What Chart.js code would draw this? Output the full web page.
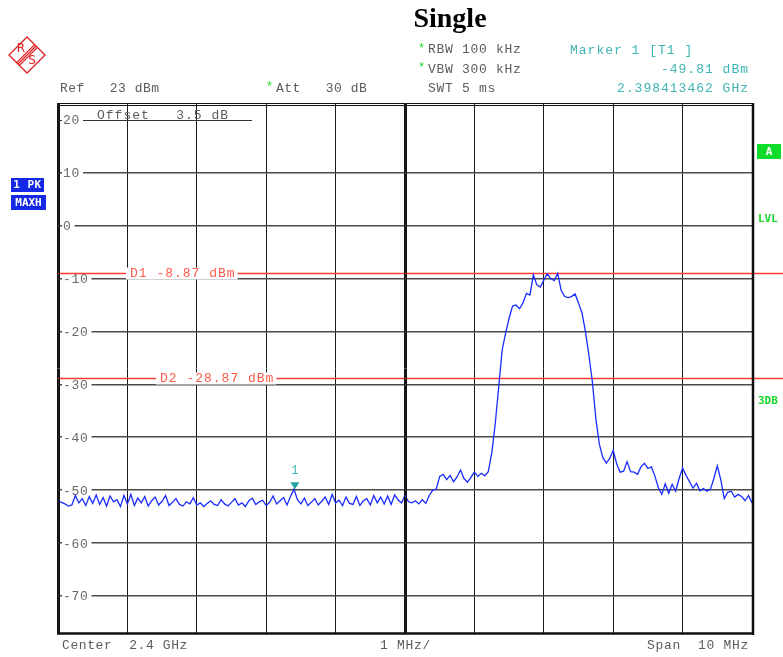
<!DOCTYPE html>
<html>
<head>
<meta charset="utf-8">
<script src="https://cdn.jsdelivr.net/npm/chart.js@4/dist/chart.umd.min.js"></script>
<style>
  body { margin: 0; background: #fff; }
  canvas { display: block; }
</style>
</head>
<body>
<canvas id="spec" width="783" height="657"></canvas>
<script>
// frequency offset from centre (MHz), one trace point every 50 kHz
const freqStart = -5;
const freqStep = 0.05;
// trace 1 (PK / MAXH), dBm
const levels = [
  -52.0, -52.3, -52.6, -53.0, -52.8, -51.0, -52.4, -51.6, -52.9, -51.2,
  -52.5, -50.9, -52.7, -51.4, -53.0, -51.1, -52.2, -51.8, -53.1, -51.0,
  -52.6, -50.8, -52.9, -51.5, -52.4, -51.2, -53.0, -52.0, -51.3, -52.8,
  -52.1, -51.0, -52.9, -52.3, -51.6, -52.7, -53.0, -52.2, -52.6, -51.4,
  -52.8, -52.4, -53.1, -52.5, -52.0, -52.7, -52.9, -51.8, -52.6, -53.0,
  -52.3, -51.6, -52.8, -52.4, -53.1, -52.0, -51.5, -52.7, -52.2, -51.9,
  -52.9, -52.3, -51.1, -52.6, -52.0, -51.4, -52.8, -51.2, -49.8, -51.8,
  -52.6, -51.5, -52.9, -52.3, -51.6, -52.8, -52.1, -51.3, -52.7, -50.8,
  -52.4, -51.9, -52.9, -51.3, -52.5, -52.7, -51.2, -52.9, -52.0, -51.6,
  -52.8, -51.0, -52.4, -51.3, -52.6, -51.1, -52.7, -50.9, -51.8, -52.4,
  -51.0, -52.2, -52.4, -52.0, -52.6, -51.8, -52.5, -51.0, -50.0, -49.8,
  -47.4, -47.0, -48.0, -47.2, -48.4, -47.5, -46.2, -47.8, -48.5, -47.6,
  -46.6, -47.4, -46.8, -47.3, -46.5, -43.0, -37.5, -30.5, -23.5, -20.3,
  -17.5, -15.2, -15.0, -15.7, -14.6, -12.8, -13.1, -9.3, -11.2, -11.6,
  -10.3, -9.1, -10.0, -10.4, -9.0, -12.2, -13.4, -13.6, -13.4, -12.9,
  -14.6, -16.5, -20.0, -24.5, -29.5, -36.5, -41.3, -43.8, -44.9, -44.0,
  -42.5, -45.0, -46.6, -46.4, -44.6, -46.5, -46.6, -47.0, -45.6, -44.9,
  -45.9, -45.6, -47.3, -49.5, -50.8, -48.8, -50.6, -48.9, -50.2, -47.8,
  -45.8, -47.2, -48.4, -49.6, -48.7, -50.1, -49.7, -50.2, -49.9, -47.8,
  -45.4, -48.0, -51.6, -50.4, -50.2, -51.3, -50.8, -51.2, -52.0, -51.0,
  -52.4
];
const yTicks = [20, 10, 0, -10, -20, -30, -40, -50, -60, -70];
const xTicks = [-5, -4, -3, -2, -1, 0, 1, 2, 3, 4, 5];
const dLevels = [-8.87, -28.87];
const dNames = ['D1 -8.87 dBm', 'D2 -28.87 dBm'];
const markerFreq = -1.586538;
const markerLevel = -49.81;

const MONO = '13px "Liberation Mono", "DejaVu Sans Mono", monospace';
const GREY = '#5c5c5c';
const TEAL = '#3fb4b4';
const GREEN = '#19d42a';

function txt(ctx, s, x, y, color, align, font, spacing) {
    ctx.save();
    ctx.font = font || MONO;
    ctx.letterSpacing = spacing === undefined ? '0.7px' : spacing;
    ctx.fillStyle = color;
    ctx.textAlign = align || 'left';
    ctx.textBaseline = 'middle';
    ctx.fillText(s, x, y);
    ctx.restore();
}

function hline(ctx, x1, x2, y, color, w) {
    ctx.strokeStyle = color;
    ctx.lineWidth = w;
    ctx.beginPath();
    ctx.moveTo(x1, y);
    ctx.lineTo(x2, y);
    ctx.stroke();
}

function vline(ctx, x, y1, y2, color, w) {
    ctx.strokeStyle = color;
    ctx.lineWidth = w;
    ctx.beginPath();
    ctx.moveTo(x, y1);
    ctx.lineTo(x, y2);
    ctx.stroke();
}

const analyzer = {
    id: 'analyzer',
    beforeDatasetsDraw(chart) {
        const ctx = chart.ctx;
        const a = chart.chartArea;
        const ys = chart.scales.y;
        ctx.save();
        // offset field underline (sits where the 20 dB line would be)
        const y20 = Math.round(ys.getPixelForValue(20)) + 0.5;
        hline(ctx, a.left, 252, y20, '#333', 1.2);
        txt(ctx, 'Offset   3.5 dB', 97, y20 - 5, GREY, 'left', MONO, '1px');
        // level labels inside the grid
        yTicks.forEach(v => {
            const y = ys.getPixelForValue(v);
            ctx.font = MONO;
            ctx.letterSpacing = '0.7px';
            const w = ctx.measureText(String(v)).width;
            ctx.fillStyle = '#fff';
            ctx.fillRect(a.left + 4, y - 6, w + 4, 12);
            txt(ctx, String(v), a.left + 5, y + 1, '#6a6a6a');
        });
        // display lines
        dLevels.forEach((v, i) => {
            const y = Math.round(ys.getPixelForValue(v)) + 0.5;
            hline(ctx, a.left, chart.width, y, '#ff3b30', 1.3);
            const x0 = i === 0 ? 130 : 160;
            ctx.font = MONO;
            ctx.letterSpacing = '1px';
            const w = ctx.measureText(dNames[i]).width;
            ctx.fillStyle = '#fff';
            ctx.fillRect(x0 - 4, y - 6, w + 6, 12);
            txt(ctx, dNames[i], x0, y, '#ff5a4a', 'left', MONO, '1px');
        });
        ctx.restore();
    },
    afterDatasetsDraw(chart) {
        const ctx = chart.ctx;
        const a = chart.chartArea;
        const xs = chart.scales.x;
        const ys = chart.scales.y;
        ctx.save();

        // frame
        const xc = Math.round(xs.getPixelForValue(0));
        vline(ctx, xc - 0.5, a.top, a.bottom, '#111', 1);
        vline(ctx, xc + 1.5, a.top, a.bottom, '#111', 1);
        vline(ctx, a.left - 0.5, a.top - 1, a.bottom + 1, '#111', 1);
        vline(ctx, a.left + 1.5, a.top - 1, a.bottom + 1, '#111', 1);
        vline(ctx, a.right + 1, a.top - 1, a.bottom + 2, '#111', 2.5);
        hline(ctx, a.left - 1, a.right + 2, a.top - 0.5, '#111', 1);
        hline(ctx, a.left - 1, a.right + 2, a.top + 1.5, '#111', 1);
        hline(ctx, a.left - 1, a.right + 2, a.bottom + 0.5, '#111', 2.5);

        // marker 1
        const mx = xs.getPixelForValue(markerFreq);
        const my = ys.getPixelForValue(markerLevel);
        ctx.fillStyle = '#23a3a3';
        ctx.beginPath();
        ctx.moveTo(mx - 4.5, my - 7);
        ctx.lineTo(mx + 4.5, my - 7);
        ctx.lineTo(mx, my);
        ctx.closePath();
        ctx.fill();
        txt(ctx, '1', mx, my - 18, TEAL, 'center', '12px "Liberation Mono", monospace', '0px');

        // header
        txt(ctx, 'Single', 450, 20, '#000', 'center', 'bold 28px "Liberation Serif", serif', '0px');
        txt(ctx, '*', 418, 49, GREEN, 'left', '12px "Liberation Mono", monospace', '0px');
        txt(ctx, 'RBW 100 kHz', 428, 50, GREY);
        txt(ctx, '*', 418, 68, GREEN, 'left', '12px "Liberation Mono", monospace', '0px');
        txt(ctx, 'VBW 300 kHz', 428, 70, GREY);
        txt(ctx, 'SWT 5 ms', 428, 89, GREY);
        txt(ctx, 'Marker 1 [T1 ]', 570, 51, TEAL, 'left', MONO, '1px');
        txt(ctx, '-49.81 dBm', 749, 70, TEAL, 'right', MONO, '1px');
        txt(ctx, '2.398413462 GHz', 749, 89, TEAL, 'right', MONO, '1px');
        txt(ctx, 'Ref   23 dBm', 60, 89, GREY, 'left', MONO, '0.5px');
        txt(ctx, '*', 266, 87, GREEN, 'left', '12px "Liberation Mono", monospace', '0px');
        txt(ctx, 'Att   30 dB', 276, 89, GREY, 'left', MONO, '0.5px');

        // footer
        txt(ctx, 'Center  2.4 GHz', 62, 646, GREY, 'left', MONO, '0.6px');
        txt(ctx, '1 MHz/', 380, 646, GREY);
        txt(ctx, 'Span  10 MHz', 749, 646, GREY, 'right');

        // trace and status boxes
        const boxFont = 'bold 11px "DejaVu Sans Mono", monospace';
        ctx.fillStyle = '#1428e6';
        ctx.fillRect(11, 178, 33, 14);
        ctx.fillRect(11, 195, 35, 15);
        txt(ctx, '1 PK', 27.5, 185.5, '#fff', 'center', boxFont, '0.5px');
        txt(ctx, 'MAXH', 28.5, 203, '#fff', 'center', boxFont, '0px');
        ctx.fillStyle = '#0fdc2a';
        ctx.fillRect(757, 144, 24, 15);
        txt(ctx, 'A', 769, 152, '#fff', 'center', boxFont, '0px');
        txt(ctx, 'LVL', 758, 219, GREEN, 'left', boxFont, '0px');
        txt(ctx, '3DB', 758, 401, GREEN, 'left', boxFont, '0px');

        // R&S logo
        ctx.strokeStyle = '#e02020';
        ctx.lineWidth = 1.3;
        ctx.beginPath();
        ctx.moveTo(27, 37);
        ctx.lineTo(45, 55);
        ctx.lineTo(27, 73);
        ctx.lineTo(9, 55);
        ctx.closePath();
        ctx.stroke();
        [-2, 0, 2].forEach(d => {
            ctx.beginPath();
            ctx.moveTo(36 + d * 0.7, 46 + d * 0.7);
            ctx.lineTo(18 + d * 0.7, 64 + d * 0.7);
            ctx.stroke();
        });
        txt(ctx, 'R', 21, 49, '#e02020', 'center', '12px "DejaVu Sans", sans-serif', '0px');
        txt(ctx, 'S', 32, 61, '#e02020', 'center', '12px "DejaVu Sans", sans-serif', '0px');

        ctx.restore();
    }
};

new Chart(document.getElementById('spec'), {
    type: 'line',
    data: {
        datasets: [{
            data: levels.map((v, i) => ({ x: +(freqStart + i * freqStep).toFixed(3), y: v })),
            borderColor: '#1a2cff',
            borderWidth: 1.3,
            pointRadius: 0,
            tension: 0,
            fill: false
        }]
    },
    options: {
        responsive: false,
        animation: false,
        events: [],
        layout: { padding: { left: 58, right: 31, top: 104, bottom: 24 } },
        plugins: { legend: { display: false }, tooltip: { enabled: false } },
        scales: {
            x: {
                type: 'linear',
                min: -5,
                max: 5,
                afterBuildTicks: s => { s.ticks = xTicks.map(v => ({ value: v })); },
                afterFit: s => { s.height = 0; },
                ticks: { display: false },
                border: { display: false },
                grid: { color: '#1a1a1a', lineWidth: 1, drawTicks: false }
            },
            y: {
                min: -77,
                max: 23,
                afterBuildTicks: s => { s.ticks = yTicks.map(v => ({ value: v })); },
                afterFit: s => { s.width = 0; },
                ticks: { display: false },
                border: { display: false },
                grid: {
                    color: c => (c.tick && c.tick.value === 20) ? 'rgba(0,0,0,0)' : '#4a4a4a',
                    lineWidth: 1.6,
                    drawTicks: false
                }
            }
        }
    },
    plugins: [analyzer]
});
</script>
</body>
</html>
